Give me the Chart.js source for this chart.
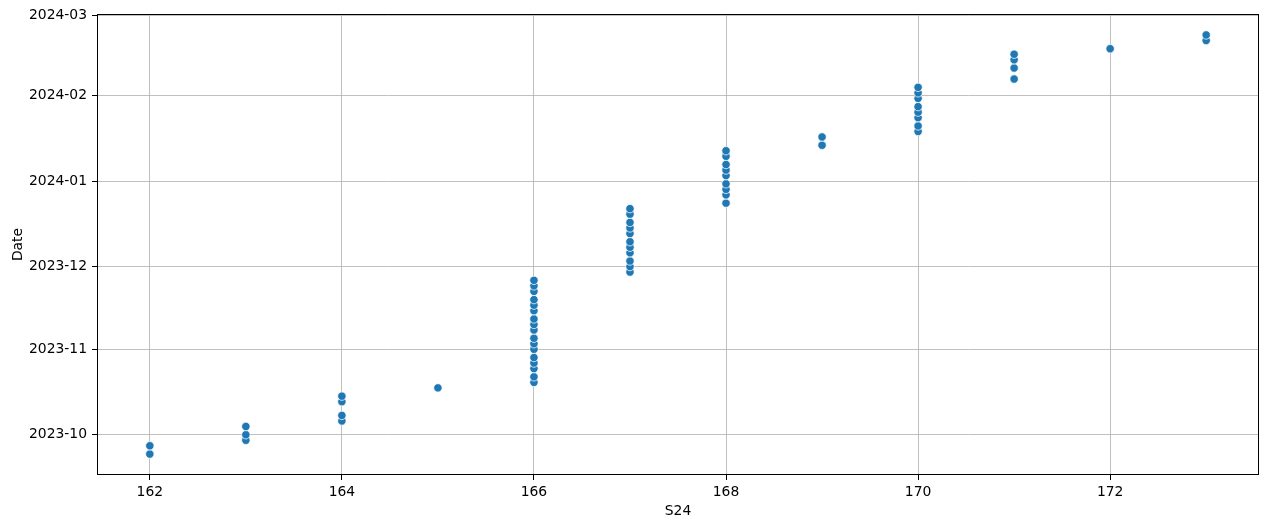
<!DOCTYPE html>
<html>
<head>
<meta charset="utf-8">
<script src="https://cdn.jsdelivr.net/npm/chart.js@4.4.1/dist/chart.umd.min.js"></script>
<style>
  body { margin: 0; background: #fff; }
  #wrap { width: 1269px; height: 529px; }
</style>
</head>
<body>
<div id="wrap"><canvas id="chart" width="1269" height="529"></canvas></div>
<script>
// S24 value for each observation
let s24 = [
  162, 162,
  163, 163, 163,
  164, 164, 164, 164,
  165,
  166, 166, 166, 166, 166, 166, 166, 166, 166, 166, 166, 166, 166, 166, 166, 166, 166,
  167, 167, 167, 167, 167, 167, 167, 167, 167, 167, 167,
  168, 168, 168, 168, 168, 168, 168, 168, 168,
  169, 169,
  170, 170, 170, 170, 170, 170, 170, 170,
  171, 171, 171, 171,
  172,
  173, 173
]
// matching dates
let dates = [
  "2023-09-24", "2023-09-27",
  "2023-09-29", "2023-10-01", "2023-10-04",
  "2023-10-06", "2023-10-08", "2023-10-13", "2023-10-15",
  "2023-10-18",
  "2023-10-20", "2023-10-22", "2023-10-25", "2023-10-27", "2023-10-29", "2023-11-01",
  "2023-11-03", "2023-11-05", "2023-11-08", "2023-11-10", "2023-11-12", "2023-11-15",
  "2023-11-17", "2023-11-19", "2023-11-22", "2023-11-24", "2023-11-26",
  "2023-11-29", "2023-12-01", "2023-12-03", "2023-12-06", "2023-12-08", "2023-12-10",
  "2023-12-13", "2023-12-15", "2023-12-17", "2023-12-20", "2023-12-22",
  "2023-12-24", "2023-12-27", "2023-12-29", "2023-12-31", "2024-01-03", "2024-01-05",
  "2024-01-07", "2024-01-10", "2024-01-12",
  "2024-01-14", "2024-01-17",
  "2024-01-19", "2024-01-21", "2024-01-24", "2024-01-26", "2024-01-28", "2024-01-31",
  "2024-02-02", "2024-02-04",
  "2024-02-07", "2024-02-11", "2024-02-14", "2024-02-16",
  "2024-02-18",
  "2024-02-21", "2024-02-23"
]
let xTicks = [162, 164, 166, 168, 170, 172]
let yTickLabels = ["2023-10", "2023-11", "2023-12", "2024-01", "2024-02", "2024-03"]

// no date adapter offline, so dates go on a linear axis as day numbers
function dayNum(str) {
  let p = str.split("-").map(Number);
  return Date.UTC(p[0], p[1] - 1, p[2] || 1) / 86400000;
}
function dayLabel(n) {
  let d = new Date(n * 86400000);
  return d.getUTCFullYear() + "-" + String(d.getUTCMonth() + 1).padStart(2, "0");
}

let points = s24.map((x, i) => ({ x: x, y: dayNum(dates[i]) }));
let yVals = points.map(p => p.y);
let yMinData = Math.min.apply(null, yVals), yMaxData = Math.max.apply(null, yVals);
let yPad = (yMaxData - yMinData) * 0.05;
let xPad = (Math.max.apply(null, s24) - Math.min.apply(null, s24)) * 0.05;

const font = { family: "'DejaVu Sans', sans-serif", size: 13.9 };

const frameBox = {
  id: 'frameBox',
  afterDraw(chart) {
    let a = chart.chartArea, ctx = chart.ctx;
    ctx.save();
    ctx.strokeStyle = '#000';
    ctx.lineWidth = 1;
    ctx.strokeRect(Math.round(a.left) + 0.5, Math.round(a.top) + 0.5,
      Math.round(a.right - a.left) - 1, Math.round(a.bottom - a.top) - 1);
    ctx.restore();
  }
};

let chart = new Chart('chart', {
  type: 'scatter',
  data: {
    datasets: [{
      data: points,
      backgroundColor: '#1f77b4',
      borderColor: '#ffffff',
      borderWidth: 0.75,
      pointRadius: 4.2,
      pointHoverRadius: 4.2
    }]
  },
  options: {
    responsive: false,
    animation: false,
    layout: { padding: { top: 14, right: 10, left: 0, bottom: 0 } },
    plugins: { legend: { display: false }, tooltip: { enabled: false } },
    scales: {
      x: {
        type: 'linear',
        z: 1,
        min: Math.min.apply(null, s24) - xPad,
        max: Math.max.apply(null, s24) + xPad,
        afterBuildTicks: (axis) => { axis.ticks = xTicks.map(v => ({ value: v })); },
        afterFit: (axis) => { axis.height = 54; },
        grid: { color: '#b0b0b0', lineWidth: 0.8, tickLength: 5, tickColor: '#000', tickWidth: 1 },
        border: { display: false },
        ticks: { color: '#000', font: font, padding: 4, maxRotation: 0 },
        title: { display: true, text: 'S24', color: '#000', font: font, padding: { top: 0, bottom: 9 } }
      },
      y: {
        type: 'linear',
        z: 1,
        min: yMinData - yPad,
        max: yMaxData + yPad,
        afterBuildTicks: (axis) => { axis.ticks = yTickLabels.map(s => ({ value: dayNum(s) })); },
        afterFit: (axis) => { axis.width = 97; },
        grid: { color: '#b0b0b0', lineWidth: 0.8, tickLength: 5, tickColor: '#000', tickWidth: 1 },
        border: { display: false },
        ticks: { color: '#000', font: font, padding: 5, callback: (v) => dayLabel(v) },
        title: { display: true, text: 'Date', color: '#000', font: font, padding: { top: 10, bottom: 0 } }
      }
    }
  },
  plugins: [frameBox]
});
</script>
</body>
</html>
